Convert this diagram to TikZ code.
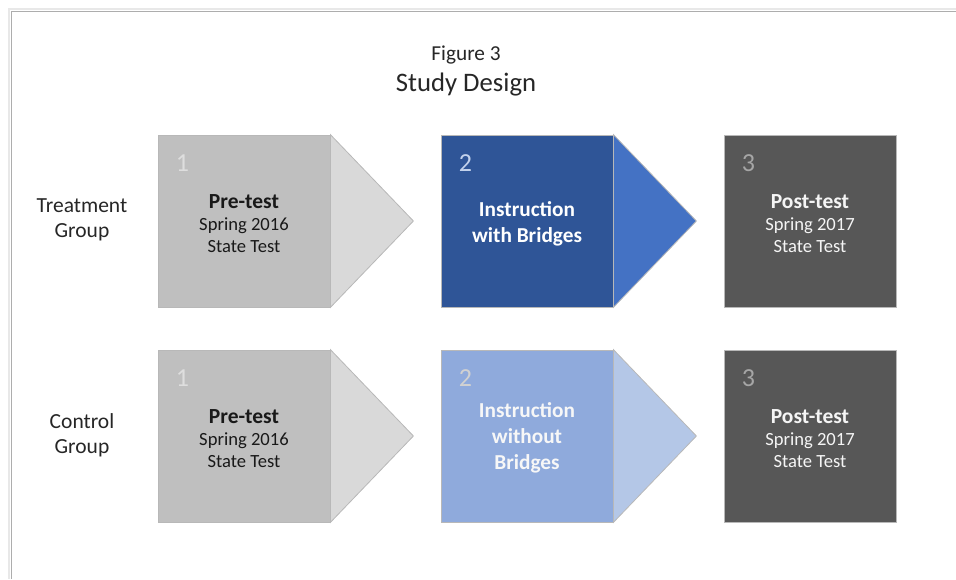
\documentclass[tikz,border=0pt]{standalone}
\usepackage{fontspec}
\setmainfont{Carlito}
\usepackage{tikz}
\usetikzlibrary{calc}
\definecolor{stepgrayA}{HTML}{BFBFBF}
\definecolor{stepgrayB}{HTML}{D9D9D9}
\definecolor{stepnavy}{HTML}{2F5597}
\definecolor{stepblue}{HTML}{4472C4}
\definecolor{steplblue}{HTML}{8FAADC}
\definecolor{stepllblue}{HTML}{B4C7E7}
\definecolor{stepdark}{HTML}{575757}
\definecolor{labeltext}{HTML}{262626}
\tikzset{
	stepsq/.style={draw=black!28, line width=0.8, minimum width=172, minimum height=172, inner sep=0},
	steptxt/.style={align=center, inner sep=0, font=\fontsize{18.6}{22}\selectfont},
	stephead/.style={align=center, inner sep=0, font=\fontsize{21.3}{26}\bfseries},
	stepnum/.style={anchor=north west, inner sep=0, font=\fontsize{26}{26}\selectfont},
	grouplbl/.style={align=center, text=labeltext, font=\fontsize{21.5}{25}\selectfont},
}
\def\steptip[#1](#2){\filldraw[draw=black!28, line width=0.8, fill=#1] (#2.north east) -- ($(#2.east)+(83,0)$) -- (#2.south east) -- cycle;}

\begin{document}
\begin{tikzpicture}[x=1pt, y=-1pt]
		%%%%% START %%%%%
		\useasboundingbox (0, 0) rectangle (956, 579);
		
		\draw[line width=2, color=black!9] (9, 579) -- (9, 9) -- (956, 9);
		\draw[line width=1, color=black!32] (11, 579) -- (11, 11) -- (956, 11);
		
		\node[text=labeltext, font=\fontsize{21.3}{22}\selectfont] (fig) at (466, 55) {Figure 3};
		\node[text=labeltext, font=\fontsize{26.7}{27}\selectfont] (title) at (466, 85) {Study Design};
		
		\node[grouplbl] (treat) at (82, 220) {Treatment\\Group};
		\node[grouplbl] (ctrl) at (82, 435) {Control\\Group};
		
		% treatment row
		\node[stepsq, fill=stepgrayA] (t1) at (244, 221) {};
		\steptip[stepgrayB](t1)
		\node[stepsq, fill=stepnavy] (t2) at (527, 221) {};
		\steptip[stepblue](t2)
		\node[stepsq, fill=stepdark] (t3) at (810, 221) {};
		
		% control row
		\node[stepsq, fill=stepgrayA] (c1) at (244, 436) {};
		\steptip[stepgrayB](c1)
		\node[stepsq, fill=steplblue] (c2) at (527, 436) {};
		\steptip[stepllblue](c2)
		\node[stepsq, fill=stepdark] (c3) at (810, 436) {};
		
		% texts
		\node[steptxt, text=black!90] (t1txt) at ($(t1)+(0, 3)$) {{\fontsize{21.5}{24}\bfseries Pre-test}\\Spring 2016\\State Test};
		\node[stephead, text=white] (t2txt) at ($(t2)+(0, 3)$) {Instruction\\with Bridges};
		\node[steptxt, text=black!4] (t3txt) at ($(t3)+(0, 3)$) {{\fontsize{21.5}{24}\bfseries Post-test}\\Spring 2017\\State Test};
		\node[steptxt, text=black!90] (c1txt) at ($(c1)+(0, 3)$) {{\fontsize{21.5}{24}\bfseries Pre-test}\\Spring 2016\\State Test};
		\node[stephead, text=black!3] (c2txt) at ($(c2)+(0, 2)$) {Instruction\\without\\Bridges};
		\node[steptxt, text=black!4] (c3txt) at ($(c3)+(0, 3)$) {{\fontsize{21.5}{24}\bfseries Post-test}\\Spring 2017\\State Test};
		
		% step numbers
		\node[stepnum, text=black!13] (n1t) at ($(t1.north west)+(18, 20)$) {1};
		\node[stepnum, text=black!13] (n1c) at ($(c1.north west)+(18, 20)$) {1};
		\node[stepnum, text=stepllblue!80!white] (n2t) at ($(t2.north west)+(18, 20)$) {2};
		\node[stepnum, text=black!18] (n2c) at ($(c2.north west)+(18, 20)$) {2};
		\node[stepnum, text=black!35] (n3t) at ($(t3.north west)+(18, 20)$) {3};
		\node[stepnum, text=black!35] (n3c) at ($(c3.north west)+(18, 20)$) {3};
		%%%%% END %%%%%
	\end{tikzpicture}
\end{document}
